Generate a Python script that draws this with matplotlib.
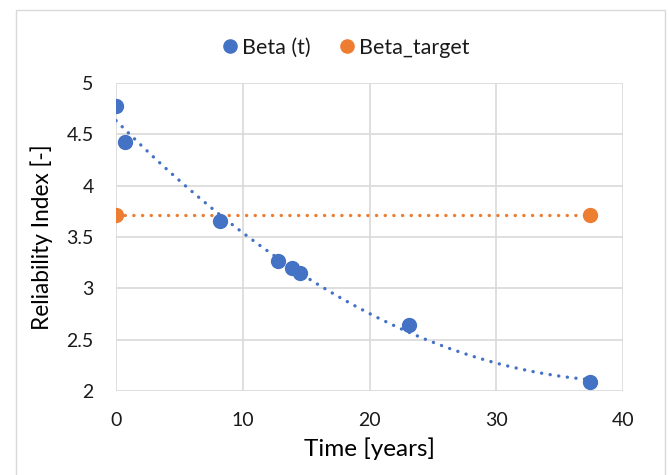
import numpy as np
import matplotlib
matplotlib.use('Agg')
import matplotlib.pyplot as plt
from matplotlib.patches import Rectangle

# ── data ───────────────────────────────────────────────────────────────────
time_years = [0.0, 0.7, 8.2, 12.8, 13.9, 14.5, 23.1, 37.4]
beta_t = [4.78, 4.43, 3.66, 3.27, 3.20, 3.15, 2.64, 2.09]

target_time = [0.0, 37.4]
beta_target = [3.71, 3.71]

x_ticks = [0, 10, 20, 30, 40]
y_ticks = [2, 2.5, 3, 3.5, 4, 4.5, 5]

BLUE = '#4472C4'
ORANGE = '#ED7D31'
GRID = '#d9d9d9'
TEXT = '#1a1a1a'

plt.rcParams['font.family'] = ['Lato', 'DejaVu Sans']
plt.rcParams['text.color'] = TEXT

fig = plt.figure(figsize=(6.69, 4.75), dpi=100)
ax = fig.add_axes([116 / 669, 1 - 391 / 475, (623 - 116) / 669, (391 - 83) / 475])

# Excel-style chart border
fig.patches.append(Rectangle((16 / 669, -0.02), (665 - 16) / 669, 1 - 10 / 475 + 0.02,
                             transform=fig.transFigure, fill=False,
                             edgecolor=GRID, linewidth=1))

# ── polynomial (order 2) trendline through Beta (t) ────────────────────────
coef = np.polyfit(time_years, beta_t, 2)
xs = np.linspace(min(time_years), max(time_years), 200)
dots = (0.05, 2.55)
ax.plot(xs, np.polyval(coef, xs), color=BLUE, lw=2.4, linestyle=(0, dots),
        dash_capstyle='round', zorder=2)
ax.plot(target_time, beta_target, color=ORANGE, lw=2.4, linestyle=(0, dots),
        dash_capstyle='round', zorder=2)

ax.plot(time_years, beta_t, 'o', color=BLUE, ms=10, label='Beta (t)', zorder=3)
ax.plot(target_time, beta_target, 'o', color=ORANGE, ms=10, label='Beta_target', zorder=3)

ax.set_xlim(0, 40)
ax.set_ylim(2, 5)
ax.set_xticks(x_ticks)
ax.set_yticks(y_ticks)
ax.set_yticklabels([f'{v:g}' for v in y_ticks])
ax.grid(True, color=GRID, linewidth=1.2)
ax.set_axisbelow(True)
for s in ax.spines.values():
    s.set_visible(False)
ax.tick_params(length=0, labelsize=14, colors=TEXT)
ax.tick_params(axis='x', pad=15)
ax.tick_params(axis='y', pad=16)

ax.set_xlabel('Time [years]', fontsize=17.5, labelpad=6)
ax.set_ylabel('Reliability Index [-]', fontsize=16.3, labelpad=10)

# legend sits slightly left of the plot centre, like in the Excel original
ax.legend(loc='center', bbox_to_anchor=(344 / 669, 1 - 48 / 475),
          bbox_transform=fig.transFigure, ncol=2, frameon=False,
          fontsize=15.5, handletextpad=0.05, columnspacing=1.2, handlelength=1.0,
          markerscale=0.95)

fig.savefig('out.png', dpi=100)
